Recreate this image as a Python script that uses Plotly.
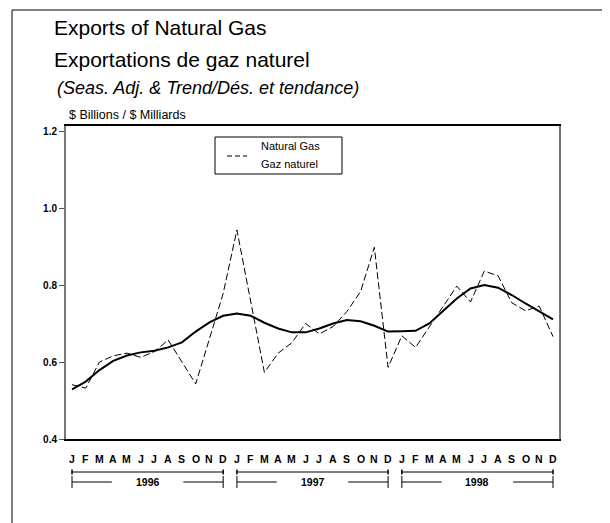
import plotly.graph_objects as go

# ---- data ----
months = ["J", "F", "M", "A", "M", "J", "J", "A", "S", "O", "N", "D"]
years = ["1996", "1997", "1998"]
y_ticks = [0.4, 0.6, 0.8, 1.0, 1.2]
y_tick_labels = ["0.4", "0.6", "0.8", "1.0", "1.2"]

natural_gas = [0.541, 0.532, 0.600, 0.616, 0.623, 0.612, 0.627, 0.657, 0.600, 0.543, 0.660, 0.778,
               0.943, 0.762, 0.573, 0.623, 0.650, 0.700, 0.673, 0.692, 0.731, 0.783, 0.898, 0.586,
               0.668, 0.638, 0.691, 0.744, 0.797, 0.756, 0.836, 0.824, 0.754, 0.733, 0.745, 0.666]
trend = [0.529, 0.549, 0.579, 0.603, 0.617, 0.625, 0.629, 0.638, 0.651, 0.679, 0.703, 0.720,
         0.726, 0.720, 0.702, 0.687, 0.677, 0.677, 0.687, 0.700, 0.709, 0.706, 0.694, 0.679,
         0.680, 0.681, 0.700, 0.733, 0.765, 0.791, 0.800, 0.793, 0.774, 0.752, 0.731, 0.711]

title1 = "Exports of Natural Gas"
title2 = "Exportations de gaz naturel"
subtitle = "(Seas. Adj. & Trend/Dés. et tendance)"
units = "$ Billions / $ Milliards"
legend_lines = ["Natural Gas", "Gaz naturel"]

# ---- geometry (page pixel coords of the reference; the page body has an 8px margin) ----
OFF = 8
W, H = 610 - OFF, 523 - OFF
L, R, T, B = 66, 559, 126, 439
FONT = "Liberation Sans, Arial, Helvetica, sans-serif"


def px(x):
    return (x - L) / (R - L)


def py(y):
    return (B - y) / (B - T)


n = len(natural_gas)
xs = list(range(n))
xstep = (553 - 72) / (n - 1)
pad = (72 - L) / xstep

fig = go.Figure()
fig.add_trace(go.Scatter(x=xs, y=natural_gas, mode="lines",
                         line=dict(color="black", width=1, dash="7px,3px"),
                         showlegend=False, hoverinfo="skip"))
fig.add_trace(go.Scatter(x=xs, y=trend, mode="lines",
                         line=dict(color="black", width=2),
                         showlegend=False, hoverinfo="skip"))

shapes = []
annotations = []

# outer frame
shapes.append(dict(type="rect", xref="paper", yref="paper",
                   x0=px(12), x1=px(660), y0=py(10), y1=py(580),
                   line=dict(color="black", width=1)))


def text(x, y, s, size, anchor="left"):
    annotations.append(dict(xref="paper", yref="paper", x=px(x), y=py(y), text=s,
                            showarrow=False, xanchor=anchor, yanchor="middle",
                            font=dict(family=FONT, size=size, color="black")))


# titles
text(52, 28, title1, 21)
text(52, 60, title2, 21)
text(55, 88, "<i>" + subtitle + "</i>", 18)
text(67, 115, units, 12.5)

# legend box
shapes.append(dict(type="rect", xref="paper", yref="paper",
                   x0=px(215), x1=px(342), y0=py(137), y1=py(174),
                   line=dict(color="black", width=1), fillcolor="white"))
shapes.append(dict(type="line", xref="paper", yref="paper",
                   x0=px(227), x1=px(247), y0=py(156), y1=py(156),
                   line=dict(color="black", width=1, dash="5px,3px")))
text(259, 146, legend_lines[0], 11)
text(259, 164, legend_lines[1], 11)

# month letters
for i in range(n):
    annotations.append(dict(xref="x", yref="paper", x=i, y=py(459), text="<b>" + months[i % 12] + "</b>",
                            showarrow=False, xanchor="center", yanchor="middle",
                            font=dict(family=FONT, size=10.5, color="black")))

# year brackets
for k, yr in enumerate(years):
    a, b = 12 * k, 12 * k + 11
    c = (a + b) / 2
    half_gap = 2.6
    shapes.append(dict(type="line", xref="x", yref="paper", x0=a, x1=b, y0=py(472), y1=py(472),
                       line=dict(color="black", width=1)))
    for e in (a, b):
        shapes.append(dict(type="line", xref="x", yref="paper", x0=e, x1=e, y0=py(469.5), y1=py(474.5),
                           line=dict(color="black", width=1.5)))
    shapes.append(dict(type="line", xref="x", yref="paper", x0=a, x1=c - half_gap, y0=py(482), y1=py(482),
                       line=dict(color="black", width=1)))
    shapes.append(dict(type="line", xref="x", yref="paper", x0=c + half_gap, x1=b, y0=py(482), y1=py(482),
                       line=dict(color="black", width=1)))
    for e in (a, b):
        shapes.append(dict(type="line", xref="x", yref="paper", x0=e, x1=e, y0=py(476), y1=py(488),
                           line=dict(color="black", width=1)))
    annotations.append(dict(xref="x", yref="paper", x=c, y=py(482), text="<b>" + yr + "</b>",
                            showarrow=False, xanchor="center", yanchor="middle",
                            font=dict(family=FONT, size=10.5, color="black")))

fig.update_layout(
    width=W, height=H,
    margin=dict(l=L - OFF, r=(610 - R), t=T - OFF, b=(523 - B), pad=0),
    paper_bgcolor="white", plot_bgcolor="white",
    showlegend=False,
    shapes=shapes, annotations=annotations,
    xaxis=dict(range=[-pad, n - 1 + pad], showgrid=False, zeroline=False,
               showticklabels=False, ticks="", showline=True, linecolor="black",
               linewidth=1.5, mirror=True, fixedrange=True),
    yaxis=dict(range=[0.4, 1.2 + (131 - T) / ((B - 131) / 0.8)], showgrid=False, zeroline=False,
               tickvals=y_ticks, ticktext=["<b>" + t + "</b>" for t in y_tick_labels],
               ticks="outside", ticklen=5, tickcolor="#555", tickwidth=1,
               tickfont=dict(family=FONT, size=10, color="black"),
               showline=True, linecolor="#777", linewidth=2, mirror=True, fixedrange=True),
)

fig.write_html("out.html")
